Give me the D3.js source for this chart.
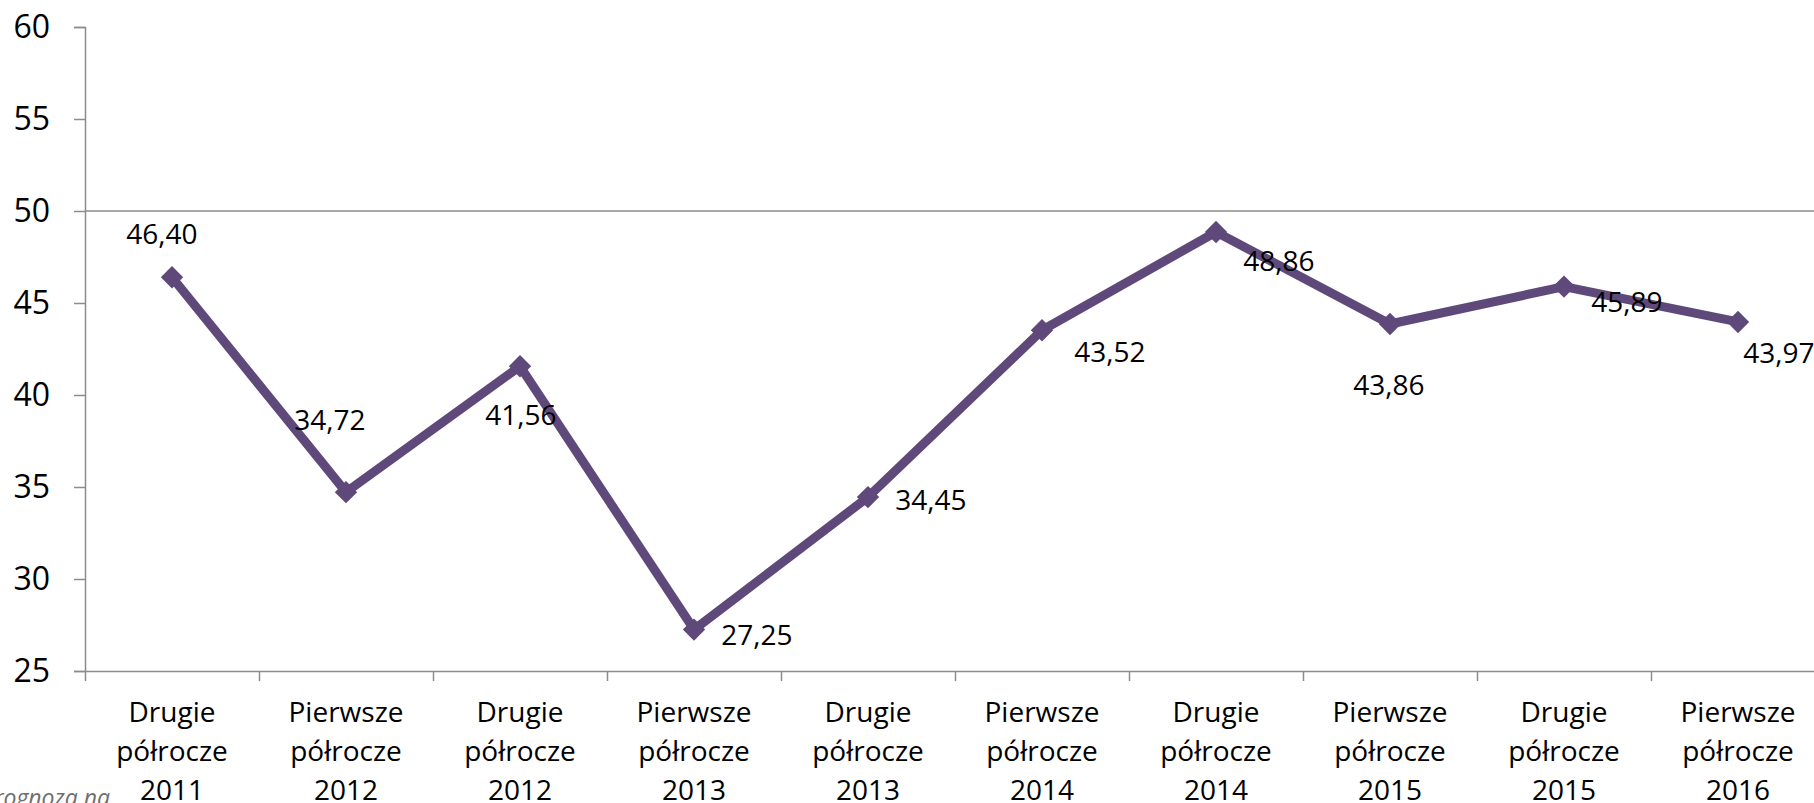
<!DOCTYPE html>
<html>
<head>
<meta charset="utf-8">
<script src="https://cdn.jsdelivr.net/npm/d3@7"></script>
<style>
  html, body { margin: 0; padding: 0; background: #fff; overflow: hidden; }
  svg { display: block; }
  text { font-family: "Open Sans", "DejaVu Sans", sans-serif; }
</style>
</head>
<body>
<svg id="chart" width="1814" height="803"></svg>
<script>
// ---- data ----
const categoryLines = [
  ["Drugie", "półrocze", "2011"],
  ["Pierwsze", "półrocze", "2012"],
  ["Drugie", "półrocze", "2012"],
  ["Pierwsze", "półrocze", "2013"],
  ["Drugie", "półrocze", "2013"],
  ["Pierwsze", "półrocze", "2014"],
  ["Drugie", "półrocze", "2014"],
  ["Pierwsze", "półrocze", "2015"],
  ["Drugie", "półrocze", "2015"],
  ["Pierwsze", "półrocze", "2016"]
];
const values = [46.40, 34.72, 41.56, 27.25, 34.45, 43.52, 48.86, 43.86, 45.89, 43.97];
const valueLabels = ["46,40", "34,72", "41,56", "27,25", "34,45", "43,52", "48,86", "43,86", "45,89", "43,97"];
const yTicks = [25, 30, 35, 40, 45, 50, 55, 60];
const gridValues = [50];
const footnote = "prognoza na";

// label placement offsets (style, not data)
const labelDx = [-10, -16, 1, 63, 63, 68, 63, -1, 63, 41];
const labelDy = [-44, -73, 48, 4, 2, 21, 28, 60, 14, 30];

// ---- layout ----
const svg = d3.select("#chart");
const plotLeft = 85, bandW = 174, plotTop = 27, plotBottom = 671;
const n = values.length;

const x = d3.scaleLinear().domain([0, n]).range([plotLeft, plotLeft + bandW * n]);
const y = d3.scaleLinear().domain([25, 60]).range([plotBottom, plotTop]);

const axisColor = "#8c8c8c";
const lineColor = "#5F497A";

// gridline at 50
svg.append("g").selectAll("line").data(gridValues).join("line")
  .attr("x1", plotLeft).attr("x2", x(n))
  .attr("y1", d => y(d)).attr("y2", d => y(d))
  .attr("stroke", axisColor).attr("stroke-width", 1.5);

// y axis
const yAxis = svg.append("g").attr("transform", `translate(${plotLeft},0)`)
  .call(d3.axisLeft(y).tickValues(yTicks).tickSize(11).tickPadding(24).tickFormat(d3.format("d")));
yAxis.select(".domain").attr("stroke", axisColor).attr("stroke-width", 1.5);
yAxis.selectAll(".tick line").attr("stroke", axisColor).attr("stroke-width", 1.5);
yAxis.selectAll(".tick text").attr("font-size", 32).attr("fill", "#000")
  .attr("font-family", "'Open Sans', sans-serif");

// x axis
const xAxis = svg.append("g").attr("transform", `translate(0,${plotBottom})`)
  .call(d3.axisBottom(x).tickValues(d3.range(0, n + 1)).tickSize(10).tickSizeOuter(0).tickFormat(""));
xAxis.select(".domain").attr("stroke", axisColor).attr("stroke-width", 1.5);
xAxis.selectAll(".tick line").attr("stroke", axisColor).attr("stroke-width", 1.5);

// x category labels
const catG = svg.append("g");
categoryLines.forEach((lines, i) => {
  const t = catG.append("text")
    .attr("x", x(i + 0.5))
    .attr("y", plotBottom + 51)
    .attr("text-anchor", "middle")
    .attr("font-size", 28)
    .attr("fill", "#000");
  lines.forEach((ln, j) => {
    t.append("tspan").attr("x", x(i + 0.5)).attr("dy", j === 0 ? 0 : 39).text(ln);
  });
});

// line
const pts = values.map((v, i) => [x(i + 0.5), y(v)]);
svg.append("path")
  .attr("d", d3.line()(pts))
  .attr("fill", "none")
  .attr("stroke", lineColor)
  .attr("stroke-width", 9)
  .attr("stroke-linejoin", "round");

// markers (diamonds)
svg.append("g").selectAll("path").data(values).join("path")
  .attr("d", d3.symbol().type(d3.symbolSquare).size(250))
  .attr("transform", (d, i) => `translate(${x(i + 0.5)},${y(d)}) rotate(45)`)
  .attr("fill", lineColor);

// data labels
svg.append("g").selectAll("text").data(values).join("text")
  .attr("x", (d, i) => x(i + 0.5) + labelDx[i])
  .attr("y", (d, i) => y(d) + labelDy[i])
  .attr("text-anchor", "middle")
  .attr("dominant-baseline", "central")
  .attr("font-size", 28)
  .attr("fill", "#000")
  .text((d, i) => valueLabels[i]);

// clipped footnote
svg.append("text")
  .attr("x", 110).attr("y", 806)
  .attr("text-anchor", "end")
  .attr("font-size", 23)
  .attr("font-style", "italic")
  .attr("fill", "#6f6f6f")
  .text(footnote);
</script>
</body>
</html>
